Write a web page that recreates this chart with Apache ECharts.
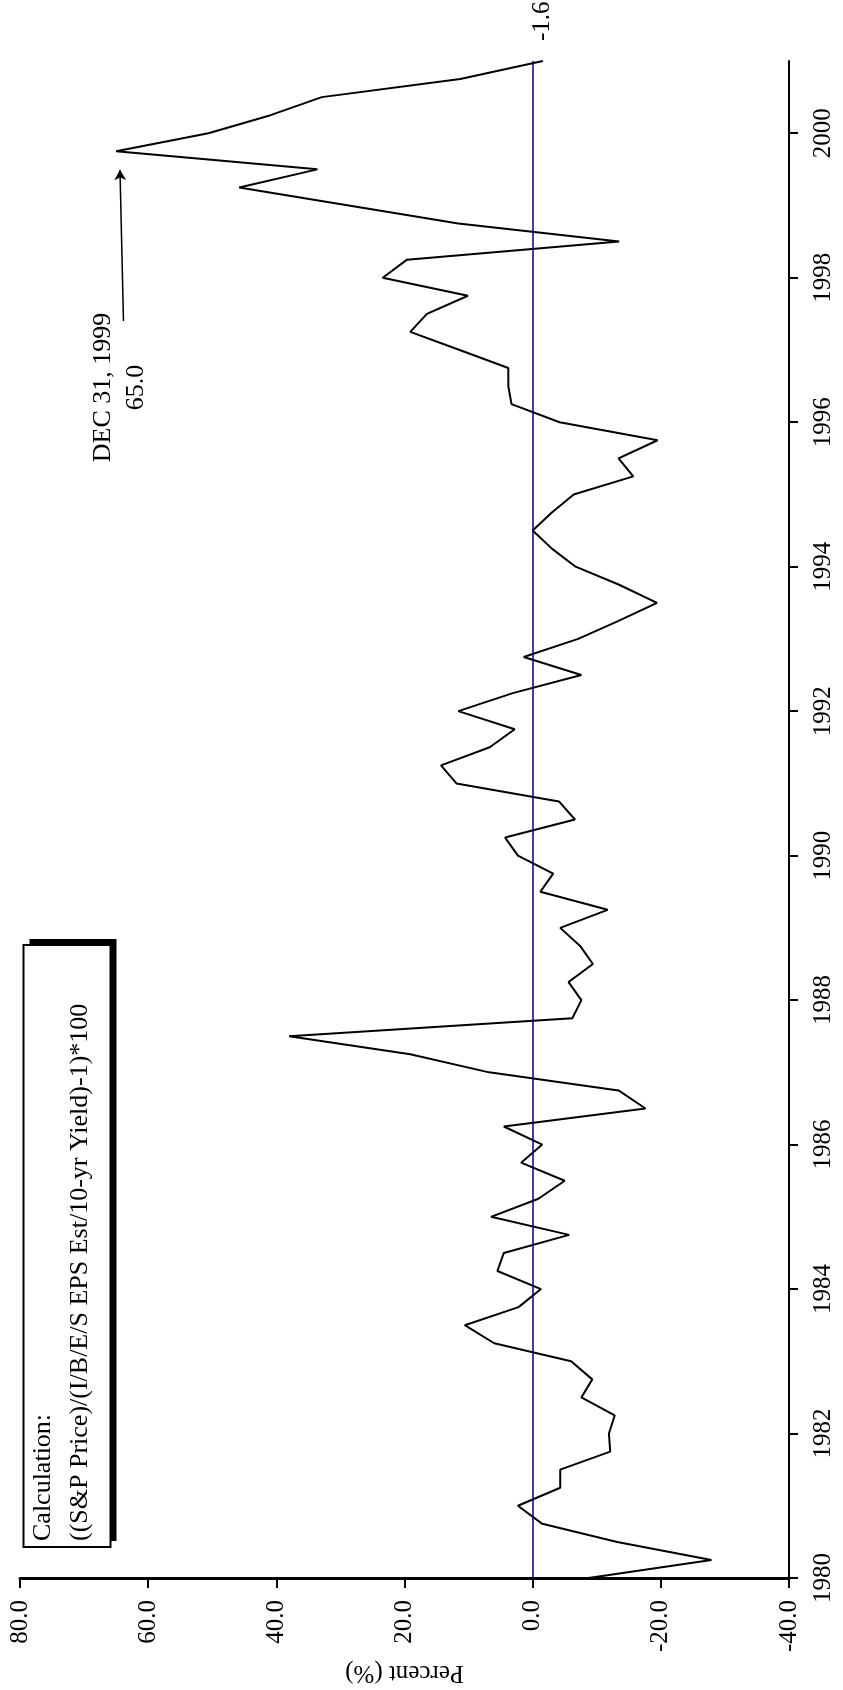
<!DOCTYPE html>
<html>
<head>
<meta charset="utf-8">
<script src="https://cdn.jsdelivr.net/npm/echarts@6/dist/echarts.min.js"></script>
<style>
html,body{margin:0;padding:0;background:#fff;}
#chart{width:843px;height:1690px;}
</style>
</head>
<body>
<div id="chart"></div>
<script>
// ---- data ----
const startYear = 1980;
const periodsPerYear = 4;
// quarterly spread (%) from 1980 to 2001
const spreadValues = [
  -8.7, -27.9, -13.2, -1.5,
   2.3,  -4.3,  -4.3, -12.1,
 -11.9, -12.8,  -7.6,  -9.3,
  -6.0,   6.0,  10.6,   2.2,
  -1.3,   5.5,   4.5,  -5.7,
   6.5,  -0.9,  -5.0,   1.8,
  -1.5,   4.5, -17.6, -13.4,
   6.8,  19.1,  38.0,  -6.2,
  -7.6,  -5.6,  -9.4,  -7.4,
  -4.3, -11.7,  -1.2,  -3.2,
   2.3,   4.3,  -6.6,  -4.1,
  11.9,  14.3,   6.7,   2.8,
  11.6,   3.1,  -7.6,   1.4,
  -7.1, -13.4, -19.4, -13.5,
  -6.7,  -3.0,   0.0,  -3.0,
  -6.4, -15.7, -13.4, -19.5,
  -4.2,   3.3,   3.8,   3.8,
  11.4,  19.1,  16.5,  10.1,
  23.4,  19.6, -13.5,  11.6,
  28.7,  45.8,  33.6,  65.0,
  50.6,  40.9,  32.9,  11.3,
  -1.6
];
const yearTicks = [1980, 1982, 1984, 1986, 1988, 1990, 1992, 1994, 1996, 1998, 2000];
const yearMin = 1980, yearMax = 2001;
const pctMin = -40, pctMax = 80, pctStep = 20;
const boxLines = ['Calculation:', '((S&P Price)/(I/B/E/S EPS Est/10-yr Yield)-1)*100'];
const peakNote = ['DEC 31, 1999', '65.0'];
const axisName = 'Percent (%)';

// ---- build ----
const FONT = "'Liberation Serif','Times New Roman',serif";
const points = spreadValues.map((v, i) => [v, startYear + i / periodsPerYear]);
const last = points[points.length - 1];
let peakIdx = 0;
spreadValues.forEach((v, i) => { if (v > spreadValues[peakIdx]) peakIdx = i; });
const peak = points[peakIdx];

const chart = echarts.init(document.getElementById('chart'), null, {renderer: 'canvas'});
chart.setOption({
  animation: false,
  backgroundColor: '#fff',
  grid: {left: 20, right: 54, top: 61, bottom: 110, containLabel: false},
  xAxis: {
    type: 'value', min: pctMin, max: pctMax, interval: pctStep, inverse: true, position: 'bottom',
    name: axisName, nameLocation: 'middle', nameGap: 77, nameRotate: 180,
    nameTextStyle: {fontSize: 25, fontFamily: FONT, color: '#000'},
    axisLine: {show: true, onZero: false, lineStyle: {color: '#000', width: 3}},
    axisTick: {show: true, length: 10, lineStyle: {color: '#000', width: 2}},
    axisLabel: {rotate: 90, margin: 22, fontSize: 25, fontFamily: FONT, color: '#000',
      formatter: v => Number(v).toFixed(1)},
    splitLine: {show: false}
  },
  yAxis: {
    type: 'value', min: yearMin, max: yearMax, position: 'right',
    axisLine: {show: true, onZero: false, lineStyle: {color: '#000', width: 2}},
    axisTick: {show: true, customValues: yearTicks, length: 9, lineStyle: {color: '#000', width: 2}},
    axisLabel: {customValues: yearTicks, rotate: 90, margin: 22, fontSize: 25, fontFamily: FONT, color: '#000',
      formatter: v => String(v)},
    splitLine: {show: false}
  },
  graphic: [
    {type: 'rect', shape: {x: 29.5, y: 939, width: 87, height: 602}, style: {fill: '#000'}, z: 10},
    {type: 'rect', shape: {x: 23.5, y: 945, width: 87, height: 602}, style: {fill: '#fff', stroke: '#000', lineWidth: 2}, z: 11},
    {type: 'text', x: 25, y: 1541, rotation: Math.PI / 2, z: 12,
      style: {text: boxLines.join('\n'), fontSize: 26, fontFamily: FONT, fill: '#000',
        align: 'left', verticalAlign: 'top', textAlign: 'left', textVerticalAlign: 'top', lineHeight: 37}}
  ],
  series: [{
    type: 'line',
    data: points,
    symbol: 'none',
    lineStyle: {color: '#000', width: 2},
    z: 3,
    markLine: {
      silent: true,
      symbol: ['none', 'none'],
      label: {show: false},
      data: [
        {xAxis: 0, lineStyle: {color: '#000080', width: 1.5, type: 'solid'}},
        [
          {coord: [peak[0] - 1.15, peak[1] - 2.35], symbol: 'none', lineStyle: {color: '#000', width: 1.5, type: 'solid'}},
          {coord: [peak[0] - 0.6, peak[1] - 0.26], symbol: 'arrow', symbolSize: [9, 10], lineStyle: {color: '#000', width: 1.5, type: 'solid'}, itemStyle: {color: '#000'}}
        ]
      ]
    },
    markPoint: {
      silent: true,
      data: [
        {coord: last, symbolSize: 0,
          label: {show: true, position: 'top', distance: 20, rotate: 90, align: 'left', verticalAlign: 'middle',
            fontSize: 25, fontFamily: FONT, color: '#000', formatter: () => last[0].toFixed(1)}},
        {coord: [peak[0] - 0.5, peak[1] - 3.27], symbolSize: 0,
          label: {show: true, position: 'inside', rotate: 90, align: 'center', verticalAlign: 'middle',
            fontSize: 26, lineHeight: 33, fontFamily: FONT, color: '#000', formatter: peakNote.join('\n')}}
      ]
    }
  }]
});
</script>
</body>
</html>
